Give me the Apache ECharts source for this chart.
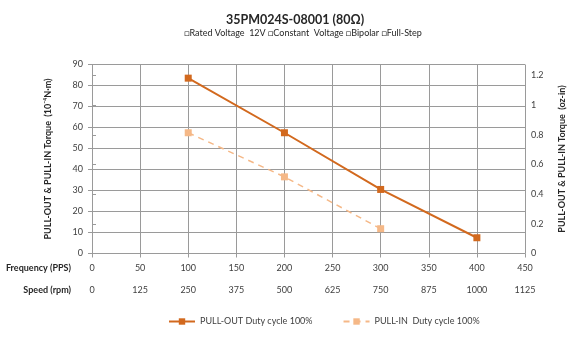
<!DOCTYPE html>
<html>
<head>
<meta charset="utf-8">
<script src="https://cdn.jsdelivr.net/npm/echarts@6/dist/echarts.min.js"></script>
<style>
  html, body { margin: 0; padding: 0; background: #fff; }
  #chart { width: 575px; height: 339px; }
</style>
</head>
<body>
<div id="chart"></div>
<script>
// 数据
var pullOut = [[100, 83.5], [200, 57.5], [300, 30.5], [400, 7.5]];
var pullIn = [[100, 57.5], [200, 36.5], [300, 11.8]];
var freqRange = [0, 450, 50];
var speedRange = [0, 1125, 125];
var torqueRange = [0, 90, 10];
var torqueTicks = [10, 20, 30, 40, 50, 60, 70, 80, 90];
var ozRange = [0, 90 / 70.6, 0.2]; // 10^-4 N·m -> oz-in

var FONT = 'Lato, "Liberation Sans", sans-serif';
var myChart = echarts.init(document.getElementById('chart'));

var axisGray = '#9a9a9a';
var plain = function (v) { return String(v); };
var labelStyle = { fontSize: 9, color: '#404040', fontFamily: FONT, formatter: plain };
var nameStyle = { fontSize: 9, fontWeight: 'bold', color: '#262626', fontFamily: FONT };

var option = {
  animation: false,
  backgroundColor: '#fff',
  title: [
    {
      text: '35PM024S-08001 (80Ω)',
      left: 290, top: 8, textAlign: 'center',
      textStyle: { fontSize: 12.5, fontWeight: 'bold', color: '#262626', fontFamily: FONT }
    },
    {
      text: '□Rated Voltage  12V □Constant  Voltage □Bipolar □Full-Step',
      left: 298, top: 24, textAlign: 'center',
      textStyle: { fontSize: 9, fontWeight: 'normal', color: '#262626', fontFamily: FONT }
    }
  ],
  legend: {
    bottom: 8,
    left: 163,
    itemWidth: 26,
    itemHeight: 8,
    itemGap: 30,
    textStyle: { fontSize: 9, color: '#404040', fontFamily: FONT }
  },
  grid: { left: 92, right: 39, top: 64.5, bottom: 85.5 },
  xAxis: [
    {
      type: 'value',
      min: freqRange[0], max: freqRange[1], interval: freqRange[2],
      position: 'bottom',
      axisLine: { lineStyle: { color: axisGray } },
      axisTick: { show: true, length: 4, lineStyle: { color: axisGray } },
      splitLine: { show: true, lineStyle: { color: axisGray, width: 1 } },
      axisLabel: Object.assign({ margin: 10 }, labelStyle)
    },
    {
      type: 'value',
      min: speedRange[0], max: speedRange[1], interval: speedRange[2],
      position: 'bottom',
      offset: 22,
      axisLine: { show: false },
      axisTick: { show: false },
      splitLine: { show: false },
      axisLabel: Object.assign({ margin: 10 }, labelStyle)
    }
  ],
  yAxis: [
    {
      type: 'value',
      min: torqueRange[0], max: torqueRange[1], interval: torqueRange[2],
      name: 'PULL-OUT & PULL-IN Torque  (10⁻⁴N·m)',
      nameLocation: 'middle',
      nameGap: 39,
      nameTextStyle: nameStyle,
      axisLine: { show: true, lineStyle: { color: axisGray } },
      axisTick: { show: true, length: 4, lineStyle: { color: axisGray } },
      splitLine: { show: true, lineStyle: { color: axisGray, width: 1, type: 'solid' } },
      axisLabel: Object.assign({ margin: 9 }, labelStyle)
    },
    {
      type: 'value',
      min: ozRange[0], max: ozRange[1], interval: ozRange[2],
      position: 'right',
      name: 'PULL-OUT & PULL-IN Torque  (oz-in)',
      nameLocation: 'middle',
      nameGap: 33,
      nameTextStyle: nameStyle,
      axisLine: { show: true, lineStyle: { color: axisGray } },
      axisTick: { show: true, length: 4, lineStyle: { color: axisGray } },
      splitLine: { show: false },
      axisLabel: Object.assign({ margin: 6, showMaxLabel: false }, labelStyle)
    }
  ],
  graphic: [
    {
      type: 'text', right: 575 - 71, top: 264,
      style: { text: 'Frequency (PPS)', font: 'bold 9px ' + FONT, fill: '#262626', textAlign: 'right' }
    },
    {
      type: 'text', right: 575 - 71, top: 286,
      style: { text: 'Speed (rpm)', font: 'bold 9px ' + FONT, fill: '#262626', textAlign: 'right' }
    }
  ],
  series: [
    {
      name: 'PULL-OUT Duty cycle 100%',
      type: 'line',
      data: pullOut,
      symbol: 'rect',
      symbolSize: 7,
      lineStyle: { color: '#D2691E', width: 2 },
      itemStyle: { color: '#D2691E' },
      // 横向网格线
      markLine: {
        silent: true,
        z: 1,
        symbol: ['none', 'none'],
        label: { show: false },
        emphasis: { disabled: true },
        lineStyle: { color: axisGray, width: 1, type: 'solid' },
        data: torqueTicks.map(function (v) { return { yAxis: v }; })
      }
    },
    {
      name: 'PULL-IN  Duty cycle 100%',
      type: 'line',
      data: pullIn,
      symbol: 'rect',
      symbolSize: 7,
      lineStyle: { color: '#F5B887', width: 1.5, type: [6, 5] },
      itemStyle: { color: '#F5B887' }
    }
  ]
};
myChart.setOption(option);
</script>
</body>
</html>
